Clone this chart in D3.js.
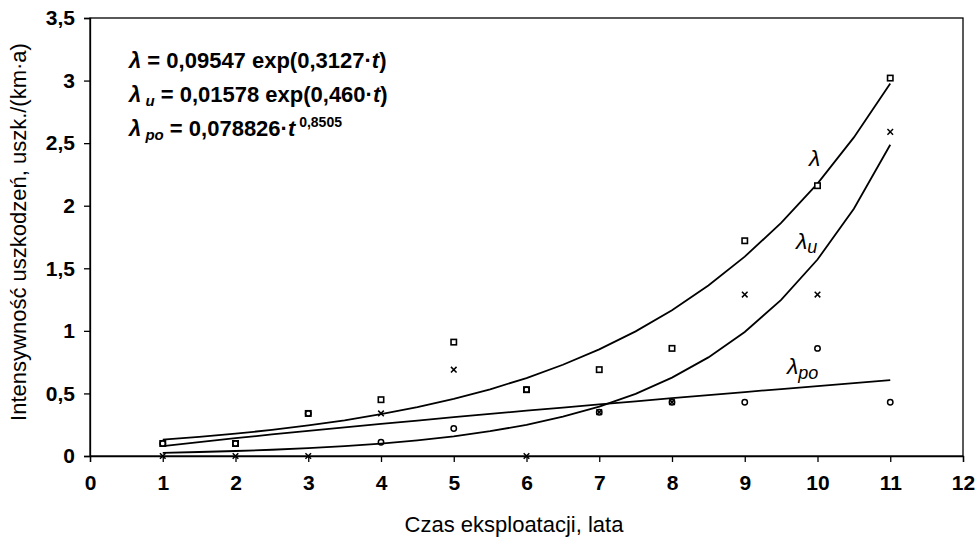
<!DOCTYPE html>
<html>
<head>
<meta charset="utf-8">
<script src="https://cdn.jsdelivr.net/npm/d3@7"></script>
<style>
  body { margin: 0; background: #fff; }
  svg { display: block; font-family: "Liberation Sans", Arial, sans-serif; }
</style>
</head>
<body>
<svg id="chart" width="979" height="538"></svg>
<script>
// measured points (years 1..11)
const years = [1, 2, 3, 4, 5, 6, 7, 8, 9, 10, 11];
const lambdaPts = [0.10, 0.10, 0.34, 0.45, 0.91, 0.53, 0.69, 0.86, 1.72, 2.16, 3.02];
const lambdaUPts = [0, 0, 0, 0.34, 0.69, 0, 0.35, 0.43, 1.29, 1.29, 2.59];
const lambdaPoPts = [0.10, 0.10, 0.34, 0.11, 0.22, 0.53, 0.35, 0.43, 0.43, 0.86, 0.43];

// fitted curves, read at half-year steps
const tCurve = [1, 1.5, 2, 2.5, 3, 3.5, 4, 4.5, 5, 5.5, 6, 6.5, 7, 7.5, 8, 8.5, 9, 9.5, 10, 10.5, 11];
const lambdaCurve = [0.131, 0.153, 0.178, 0.209, 0.244, 0.285, 0.334, 0.390, 0.456, 0.533, 0.623,
  0.729, 0.852, 0.996, 1.165, 1.362, 1.593, 1.862, 2.177, 2.546, 2.977];
const lambdaUCurve = [0.025, 0.032, 0.040, 0.050, 0.063, 0.079, 0.099, 0.125, 0.157, 0.198, 0.249,
  0.314, 0.395, 0.497, 0.626, 0.788, 0.991, 1.247, 1.570, 1.976, 2.487];
const lambdaPoCurve = [0.079, 0.111, 0.142, 0.172, 0.201, 0.229, 0.256, 0.283, 0.310, 0.336, 0.362,
  0.387, 0.413, 0.437, 0.462, 0.487, 0.511, 0.535, 0.559, 0.582, 0.606];

const xTicks = [0, 1, 2, 3, 4, 5, 6, 7, 8, 9, 10, 11, 12];
const yTicks = [0, 0.5, 1, 1.5, 2, 2.5, 3, 3.5];

const svg = d3.select("#chart");
const margin = {left: 90, top: 18, right: 16, bottom: 82};
const W = 979, H = 538;

const x = d3.scaleLinear().domain([0, 12]).range([margin.left, W - margin.right]);
const y = d3.scaleLinear().domain([0, 3.5]).range([H - margin.bottom, margin.top]);

const fmt = d => String(d).replace(".", ",");

// frame
svg.append("rect")
  .attr("x", x(0)).attr("y", y(3.5))
  .attr("width", x(12) - x(0)).attr("height", y(0) - y(3.5))
  .attr("fill", "none").attr("stroke", "#000").attr("stroke-width", 1.3);

// axes
const xAxis = svg.append("g")
  .attr("transform", `translate(0,${y(0)})`)
  .call(d3.axisBottom(x).tickValues(xTicks).tickFormat(fmt).tickSizeOuter(0).tickSize(6).tickPadding(13));
const yAxis = svg.append("g")
  .attr("transform", `translate(${x(0)},0)`)
  .call(d3.axisLeft(y).tickValues(yTicks).tickFormat(fmt).tickSizeOuter(0).tickSize(6).tickPadding(9));

[xAxis, yAxis].forEach(g => {
  g.select(".domain").attr("stroke-width", 1.3);
  g.selectAll(".tick line").attr("stroke-width", 1.3);
  g.selectAll(".tick text")
    .attr("font-family", "Liberation Sans, Arial, sans-serif")
    .attr("font-size", 21).attr("font-weight", "bold").attr("fill", "#000");
});

// axis titles
svg.append("text")
  .attr("x", 514).attr("y", 532)
  .attr("text-anchor", "middle").attr("font-size", 22)
  .text("Czas eksploatacji, lata");

svg.append("text")
  .attr("transform", `translate(26,232) rotate(-90)`)
  .attr("text-anchor", "middle").attr("font-size", 22)
  .text("Intensywność uszkodzeń, uszk./(km·a)");

// curves
const line = d3.line().x(d => x(d[0])).y(d => y(d[1]));
[lambdaCurve, lambdaUCurve, lambdaPoCurve].forEach(vals => {
  svg.append("path")
    .datum(tCurve.map((t, i) => [t, vals[i]]))
    .attr("d", line)
    .attr("fill", "none").attr("stroke", "#000").attr("stroke-width", 1.8);
});

// markers
svg.append("g").selectAll("rect")
  .data(years.map((t, i) => [t, lambdaPts[i]]))
  .join("rect")
  .attr("x", d => x(d[0]) - 2.7).attr("y", d => y(d[1]) - 2.7)
  .attr("width", 5.4).attr("height", 5.4)
  .attr("fill", "#fff").attr("stroke", "#000").attr("stroke-width", 1.6);

svg.append("g").selectAll("circle")
  .data(years.map((t, i) => [t, lambdaPoPts[i]]))
  .join("circle")
  .attr("cx", d => x(d[0])).attr("cy", d => y(d[1])).attr("r", 2.7)
  .attr("fill", "none").attr("stroke", "#000").attr("stroke-width", 1.5);

svg.append("g").selectAll("path")
  .data(years.map((t, i) => [t, lambdaUPts[i]]))
  .join("path")
  .attr("d", d => {
    const cx = x(d[0]), cy = y(d[1]), s = 2.8;
    return `M${cx - s},${cy - s}L${cx + s},${cy + s}M${cx - s},${cy + s}L${cx + s},${cy - s}`;
  })
  .attr("stroke", "#000").attr("stroke-width", 1.5);

// curve labels
const lab = svg.append("g").attr("font-style", "italic").attr("fill", "#000");
lab.append("text").attr("x", 809).attr("y", 166).attr("font-size", 23).text("λ");
const lu = lab.append("text").attr("x", 796).attr("y", 249).attr("font-size", 23);
lu.append("tspan").text("λ");
lu.append("tspan").attr("font-size", 18).attr("dy", 4).text("u");
const lp = lab.append("text").attr("x", 787).attr("y", 374).attr("font-size", 23);
lp.append("tspan").text("λ");
lp.append("tspan").attr("font-size", 18).attr("dy", 5).text("po");

// formulas
const fg = svg.append("g").attr("font-weight", "bold").attr("font-size", 22).attr("fill", "#000");
const f1 = fg.append("text").attr("x", 129).attr("y", 68);
f1.append("tspan").attr("font-style", "italic").text("λ");
f1.append("tspan").text(" = 0,09547 exp(0,3127·");
f1.append("tspan").attr("font-style", "italic").text("t");
f1.append("tspan").text(")");

const f2 = fg.append("text").attr("x", 129).attr("y", 102);
f2.append("tspan").attr("font-style", "italic").text("λ");
f2.append("tspan").attr("font-style", "italic").attr("font-size", 15).attr("dy", 4).text(" u");
f2.append("tspan").attr("dy", -4).text("  = 0,01578 exp(0,460·");
f2.append("tspan").attr("font-style", "italic").text("t");
f2.append("tspan").text(")");

const f3 = fg.append("text").attr("x", 129).attr("y", 136);
f3.append("tspan").attr("font-style", "italic").text("λ");
f3.append("tspan").attr("font-style", "italic").attr("font-size", 15).attr("dy", 4).text(" po");
f3.append("tspan").attr("dy", -4).text("  = 0,078826·");
f3.append("tspan").attr("font-style", "italic").text("t");
f3.append("tspan").attr("font-size", 14).attr("dy", -9).text(" 0,8505");
</script>
</body>
</html>
